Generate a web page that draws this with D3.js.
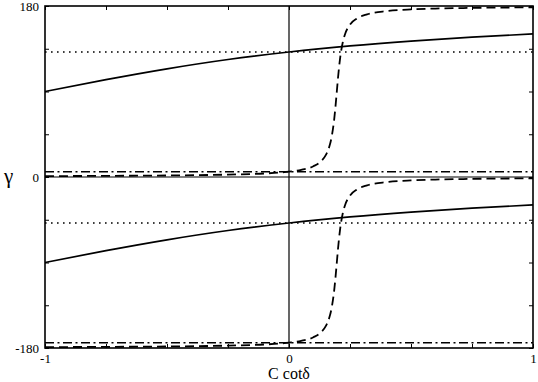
<!DOCTYPE html>
<html><head><meta charset="utf-8">
<script src="https://cdn.jsdelivr.net/npm/d3@7"></script>
<style>body{margin:0;background:#fff}svg{display:block}text{font-family:'Liberation Serif','Times New Roman',serif}</style>
</head><body><svg id="c" width="538" height="382"></svg>
<script>
// x values and series (gamma in degrees)
const solidC = [-1, -0.75, -0.5, -0.25, 0, 0.25, 0.5, 0.75, 1];
const solidUpper = [90, 102.5, 113.9, 123.7, 131.6, 138.0, 143.1, 147.25, 150.6];
const solidLower = [-90, -77.5, -66.1, -56.3, -48.4, -42.0, -36.9, -32.75, -29.4];

const dashedC = [-1, -0.75, -0.5, -0.25, -0.1, 0, 0.05, 0.1, 0.13, 0.15, 0.165, 0.175, 0.185, 0.19, 0.196, 0.2, 0.205, 0.21, 0.22, 0.23, 0.25, 0.28, 0.32, 0.4, 0.5, 0.6, 0.75, 1];
const dashedUpper = [0.9, 1.2, 1.6, 2.5, 3.7, 5.6, 7.5, 11.3, 16.2, 22.7, 31.8, 42.5, 60.2, 72.7, 90, 101.8, 115.1, 126.1, 141.3, 150.6, 160.4, 167.1, 171.2, 174.6, 176.4, 177.3, 178.0, 178.6];
const dashedLower = [-179.1, -178.8, -178.4, -177.5, -176.3, -174.4, -172.5, -168.7, -163.8, -157.3, -148.2, -137.5, -119.8, -107.3, -90, -78.2, -64.9, -53.9, -38.7, -29.4, -19.6, -12.9, -8.8, -5.4, -3.6, -2.7, -2.0, -1.4];

const flatC = [-1, 1];
const dashDotUpper = [5.6, 5.6];
const dashDotLower = [-174.4, -174.4];
const dottedUpper = [131.6, 131.6];
const dottedLower = [-48.4, -48.4];

const xTicks = [-1, -0.75, -0.5, -0.25, 0, 0.25, 0.5, 0.75, 1];
const xLabels = ["-1", "0", "1"];
const yTicks = [-180, -135, -90, -45, 0, 45, 90, 135, 180];
const yLabels = ["-180", "0", "180"];

const svg = d3.select("#c");
const L = 45, R = 533, T = 6, B = 348;
const x = d3.scaleLinear().domain([-1, 1]).range([L, R]);
const y = d3.scaleLinear().domain([-180, 180]).range([B, T]);

svg.append("defs").append("clipPath").attr("id", "clip")
  .append("rect").attr("x", L).attr("y", T).attr("width", R - L).attr("height", B - T);

const font = "'Liberation Serif', 'Times New Roman', serif";

function styleAxis(g) {
  g.attr("font-family", font).attr("font-size", 13);
  g.select(".domain").remove();
  g.selectAll(".tick line").attr("stroke", "#000").attr("stroke-width", 1);
  g.selectAll("text").style("font-family", font).style("font-size", "13px").attr("fill", "#000");
}
svg.append("g").attr("transform", `translate(0,${B})`)
  .call(d3.axisBottom(x).tickValues(xTicks).tickSize(-4).tickPadding(6)
    .tickFormat(d => xLabels.includes(String(d)) ? String(d) : ""))
  .call(styleAxis);
svg.append("g").attr("transform", `translate(0,${T})`)
  .call(d3.axisTop(x).tickValues(xTicks).tickSize(-4).tickFormat(""))
  .call(styleAxis);
svg.append("g").attr("transform", `translate(${L},0)`)
  .call(d3.axisLeft(y).tickValues(yTicks).tickSize(-4).tickPadding(6)
    .tickFormat(d => yLabels.includes(String(d)) ? String(d) : ""))
  .call(styleAxis);
svg.append("g").attr("transform", `translate(${R},0)`)
  .call(d3.axisRight(y).tickValues(yTicks).tickSize(-4).tickFormat(""))
  .call(styleAxis);

// zero lines
svg.append("line").attr("x1", L).attr("x2", R).attr("y1", y(0)).attr("y2", y(0))
  .attr("stroke", "#000").attr("stroke-width", 1.2);
svg.append("line").attr("x1", x(0)).attr("x2", x(0)).attr("y1", T).attr("y2", B)
  .attr("stroke", "#000").attr("stroke-width", 1.2);

const plot = svg.append("g").attr("clip-path", "url(#clip)");
function drawLine(cs, vs, dash, curve, w) {
  const pts = cs.map((c, i) => [c, vs[i]]);
  plot.append("path").datum(pts)
    .attr("d", d3.line().x(d => x(d[0])).y(d => y(d[1])).curve(curve || d3.curveMonotoneX))
    .attr("fill", "none").attr("stroke", "#000").attr("stroke-width", w || 1.6)
    .attr("stroke-dasharray", dash || null);
}
drawLine(flatC, dottedUpper, "1.6,4.4", d3.curveLinear, 1.6);
drawLine(flatC, dottedLower, "1.6,4.4", d3.curveLinear, 1.6);
drawLine(flatC, dashDotUpper, "9,3.5,2,3.5", d3.curveLinear, 1.6);
drawLine(flatC, dashDotLower, "9,3.5,2,3.5", d3.curveLinear, 1.6);
drawLine(dashedC, dashedUpper, "9,5", null, 1.8);
drawLine(dashedC, dashedLower, "9,5", null, 1.8);
drawLine(solidC, solidUpper, null, null, 1.7);
drawLine(solidC, solidLower, null, null, 1.7);

// frame
svg.append("rect").attr("x", L).attr("y", T).attr("width", R - L).attr("height", B - T)
  .attr("fill", "none").attr("stroke", "#000").attr("stroke-width", 1.6);

// axis titles
svg.append("text").attr("x", (L + R) / 2).attr("y", 379).attr("text-anchor", "middle")
  .style("font-family", font).style("font-size", "16px").text("C cotδ");
svg.append("text").attr("x", 4).attr("y", 183)
  .style("font-family", font).style("font-size", "21px").text("γ");
</script>
</body></html>
